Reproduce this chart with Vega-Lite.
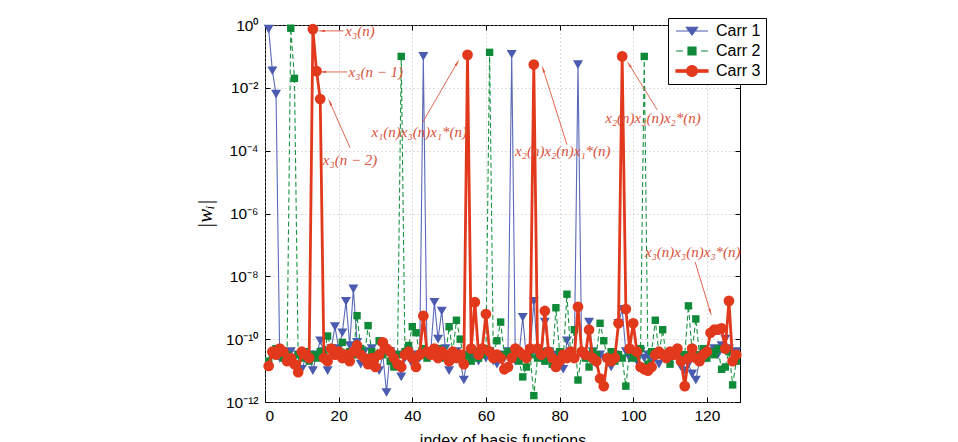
{
  "$schema": "https://vega.github.io/schema/vega-lite/v6.json",
  "width": 475,
  "height": 377,
  "autosize": {"type": "none"},
  "padding": {"left": 265, "top": 25, "right": 218, "bottom": 40},
  "background": "white",
  "config": {
    "view": {"stroke": "#000", "strokeWidth": 1},
    "font": "Liberation Sans",
    "axis": {"labelColor": "#000", "titleColor": "#000", "tickColor": "#000", "domain": false}
  },
  "datasets": {
    "w": [
      {"i":1,"a":0.74,"b":2e-11,"c":1.4e-11},
      {"i":2,"a":0.035,"b":3.2e-11,"c":4e-11},
      {"i":3,"a":0.0063,"b":5e-11,"c":3.2e-11},
      {"i":4,"a":2.5e-11,"b":4e-11,"c":5e-11},
      {"i":5,"a":3.2e-11,"b":2.5e-11,"c":4e-11},
      {"i":6,"a":2e-11,"b":3.2e-11,"c":2e-11},
      {"i":7,"a":4e-11,"b":0.79,"c":2.5e-11},
      {"i":8,"a":2.5e-11,"b":0.02,"c":1.6e-11},
      {"i":9,"a":3.2e-11,"b":3.2e-11,"c":8.9e-12},
      {"i":10,"a":1.1e-11,"b":2.5e-11,"c":4e-11},
      {"i":11,"a":2.5e-11,"b":4e-11,"c":3.2e-11},
      {"i":12,"a":3.2e-11,"b":2e-11,"c":2.5e-11},
      {"i":13,"a":1e-11,"b":3.2e-11,"c":0.74},
      {"i":14,"a":3.2e-11,"b":2.5e-11,"c":0.034},
      {"i":15,"a":8.9e-11,"b":4e-11,"c":0.0044},
      {"i":16,"a":4e-11,"b":3.2e-11,"c":2.5e-11},
      {"i":17,"a":1e-11,"b":1.26e-10,"c":2e-11},
      {"i":18,"a":5e-11,"b":5e-11,"c":5e-11},
      {"i":19,"a":2.5e-10,"b":3.2e-11,"c":3.2e-11},
      {"i":20,"a":5e-11,"b":4e-11,"c":4e-11},
      {"i":21,"a":1.6e-10,"b":7.9e-11,"c":2.5e-11},
      {"i":22,"a":1.6e-9,"b":2.5e-11,"c":3.2e-11},
      {"i":23,"a":6.3e-11,"b":4e-11,"c":2e-11},
      {"i":24,"a":4e-9,"b":3.2e-11,"c":4e-11},
      {"i":25,"a":7.9e-11,"b":5.6e-10,"c":6.3e-11},
      {"i":26,"a":1.6e-11,"b":5e-11,"c":3.2e-11},
      {"i":27,"a":4e-11,"b":2.5e-11,"c":2.5e-11},
      {"i":28,"a":2.5e-11,"b":2.7e-10,"c":1.6e-11},
      {"i":29,"a":5e-11,"b":4e-11,"c":2.5e-11},
      {"i":30,"a":2e-11,"b":2.5e-11,"c":1.3e-11},
      {"i":31,"a":1e-11,"b":8.9e-11,"c":3.2e-11},
      {"i":32,"a":3.2e-11,"b":3.2e-11,"c":7.9e-11},
      {"i":33,"a":2e-12,"b":4e-11,"c":5e-11},
      {"i":34,"a":4e-11,"b":2e-11,"c":4e-11},
      {"i":35,"a":2.5e-11,"b":1.3e-11,"c":2.5e-11},
      {"i":36,"a":3.2e-11,"b":3.2e-11,"c":1.6e-11},
      {"i":37,"a":6.3e-12,"b":0.1,"c":1.3e-11},
      {"i":38,"a":2.5e-11,"b":4e-11,"c":3.2e-11},
      {"i":39,"a":4e-11,"b":6.3e-11,"c":4e-11},
      {"i":40,"a":1.6e-11,"b":2.5e-10,"c":2.5e-11},
      {"i":41,"a":3.2e-11,"b":1.6e-10,"c":1.3e-11},
      {"i":42,"a":2.5e-11,"b":3.2e-11,"c":3.2e-11},
      {"i":43,"a":0.1,"b":5e-11,"c":5.5e-10},
      {"i":44,"a":3.2e-11,"b":2.5e-11,"c":4e-11},
      {"i":45,"a":4e-11,"b":4e-11,"c":3.2e-11},
      {"i":46,"a":1.5e-9,"b":3.2e-11,"c":5e-11},
      {"i":47,"a":1e-10,"b":5e-11,"c":2.5e-11},
      {"i":48,"a":7.9e-10,"b":3.2e-11,"c":4e-11},
      {"i":49,"a":5e-11,"b":2.5e-11,"c":3.2e-11},
      {"i":50,"a":1e-11,"b":2.5e-10,"c":2e-11},
      {"i":51,"a":2.5e-11,"b":4e-11,"c":4e-11},
      {"i":52,"a":4e-11,"b":4e-10,"c":2.5e-11},
      {"i":53,"a":2e-11,"b":1e-10,"c":3.2e-11},
      {"i":54,"a":5e-12,"b":2.5e-11,"c":1.6e-11},
      {"i":55,"a":3.2e-11,"b":3.2e-11,"c":0.112},
      {"i":56,"a":2.5e-11,"b":2e-11,"c":5e-11},
      {"i":57,"a":4e-11,"b":4e-11,"c":1.5e-9},
      {"i":58,"a":2e-11,"b":2.5e-11,"c":3.2e-11},
      {"i":59,"a":3.2e-11,"b":3.2e-11,"c":5e-11},
      {"i":60,"a":2.5e-11,"b":5e-11,"c":6.3e-10},
      {"i":61,"a":4e-11,"b":0.135,"c":4e-11},
      {"i":62,"a":2e-11,"b":3.2e-11,"c":2.5e-11},
      {"i":63,"a":1.6e-11,"b":8.9e-11,"c":3.2e-11},
      {"i":64,"a":3.2e-11,"b":3.5e-10,"c":2.5e-11},
      {"i":65,"a":2.5e-11,"b":3.2e-11,"c":1.1e-11},
      {"i":66,"a":4e-11,"b":4e-11,"c":1.3e-11},
      {"i":67,"a":0.117,"b":2.5e-11,"c":2.5e-11},
      {"i":68,"a":2e-11,"b":3.2e-11,"c":5e-11},
      {"i":69,"a":3.2e-11,"b":2e-11,"c":4e-11},
      {"i":70,"a":5e-10,"b":6.3e-12,"c":3.2e-11},
      {"i":71,"a":2.5e-11,"b":1.3e-11,"c":2.5e-11},
      {"i":72,"a":4e-11,"b":3.2e-11,"c":5e-11},
      {"i":73,"a":1.6e-9,"b":1.6e-12,"c":0.055},
      {"i":74,"a":3.2e-11,"b":2.5e-11,"c":5e-11},
      {"i":75,"a":2.5e-11,"b":4e-11,"c":3.2e-11},
      {"i":76,"a":3.5e-10,"b":2e-11,"c":7.9e-10},
      {"i":77,"a":4e-11,"b":3.2e-11,"c":4e-11},
      {"i":78,"a":2e-11,"b":1.6e-11,"c":2.5e-11},
      {"i":79,"a":3.2e-11,"b":1e-9,"c":1.3e-11},
      {"i":80,"a":2.5e-11,"b":4e-11,"c":2e-11},
      {"i":81,"a":1.1e-11,"b":2.5e-11,"c":3.2e-11},
      {"i":82,"a":8.9e-11,"b":2.7e-9,"c":2.5e-11},
      {"i":83,"a":4e-11,"b":3.2e-11,"c":4e-11},
      {"i":84,"a":2.5e-11,"b":2e-10,"c":2.5e-11},
      {"i":85,"a":0.055,"b":5e-12,"c":1.07e-9},
      {"i":86,"a":3.2e-11,"b":4e-11,"c":4e-11},
      {"i":87,"a":2.5e-11,"b":2.5e-11,"c":3.2e-11},
      {"i":88,"a":3.5e-10,"b":1.3e-11,"c":2e-10},
      {"i":89,"a":4e-11,"b":4e-11,"c":2.5e-11},
      {"i":90,"a":1.6e-11,"b":3.2e-11,"c":2e-11},
      {"i":91,"a":3.2e-11,"b":3.2e-10,"c":5.6e-12},
      {"i":92,"a":2.5e-11,"b":8.9e-11,"c":3.2e-12},
      {"i":93,"a":2e-11,"b":2.5e-11,"c":2.5e-11},
      {"i":94,"a":1.3e-11,"b":4e-11,"c":2e-11},
      {"i":95,"a":3.2e-11,"b":2e-11,"c":2.5e-11},
      {"i":96,"a":3.2e-10,"b":3.2e-11,"c":3.2e-10},
      {"i":97,"a":8.9e-10,"b":2.5e-11,"c":0.1},
      {"i":98,"a":4e-11,"b":3.2e-12,"c":9.1e-10},
      {"i":99,"a":2.5e-11,"b":4e-11,"c":5e-11},
      {"i":100,"a":3.2e-11,"b":2.5e-11,"c":3.2e-10},
      {"i":101,"a":2e-11,"b":3.2e-11,"c":4e-11},
      {"i":102,"a":4e-11,"b":5e-11,"c":1.3e-11},
      {"i":103,"a":2.5e-11,"b":0.1,"c":1.1e-11},
      {"i":104,"a":3.2e-11,"b":1.6e-11,"c":1e-11},
      {"i":105,"a":2e-11,"b":4e-11,"c":1.3e-11},
      {"i":106,"a":2.5e-11,"b":4e-10,"c":3.2e-11},
      {"i":107,"a":1.6e-11,"b":3.2e-11,"c":4e-11},
      {"i":108,"a":3.2e-11,"b":2e-10,"c":3.2e-11},
      {"i":109,"a":2.5e-11,"b":2.5e-11,"c":2.5e-11},
      {"i":110,"a":2e-11,"b":1.6e-11,"c":4e-11},
      {"i":111,"a":3.2e-11,"b":3.2e-11,"c":3.2e-11},
      {"i":112,"a":2.5e-11,"b":4e-11,"c":5e-11},
      {"i":113,"a":1.3e-11,"b":2.5e-11,"c":2e-11},
      {"i":114,"a":1e-11,"b":3.2e-11,"c":3.2e-12},
      {"i":115,"a":1.6e-11,"b":1.15e-9,"c":2.5e-11},
      {"i":116,"a":7.9e-12,"b":4e-11,"c":5e-11},
      {"i":117,"a":5e-12,"b":4.4e-10,"c":2.5e-11},
      {"i":118,"a":2e-11,"b":3.2e-11,"c":2e-11},
      {"i":119,"a":3.2e-11,"b":5e-11,"c":3.2e-11},
      {"i":120,"a":2.5e-11,"b":2.5e-11,"c":4e-11},
      {"i":121,"a":4e-11,"b":4e-11,"c":1.6e-10},
      {"i":122,"a":5e-11,"b":3.2e-11,"c":2e-10},
      {"i":123,"a":3.2e-11,"b":5e-11,"c":2e-10},
      {"i":124,"a":6.3e-11,"b":1.1e-11,"c":2.2e-10},
      {"i":125,"a":1e-10,"b":1.3e-11,"c":5e-11},
      {"i":126,"a":5e-11,"b":4e-11,"c":1.66e-9},
      {"i":127,"a":3.2e-11,"b":3.5e-12,"c":2e-11},
      {"i":128,"a":4e-11,"b":2e-11,"c":3.2e-11}
    ],
    "ann": [
      {"k":1,"label":"x₃(n)","tx":21.8,"ty":0.65,"ax1":21.3,"ay1":0.65,"ax2":15.6,"ay2":0.65},
      {"k":2,"label":"x₃(n − 1)","tx":22.7,"ty":0.032,"ax1":22.3,"ay1":0.032,"ax2":15.9,"ay2":0.032},
      {"k":3,"label":"x₃(n − 2)","tx":15.7,"ty":5.1e-5,"ax1":23.1,"ay1":1.23e-4,"ax2":17.7,"ay2":3.3e-3},
      {"k":4,"label":"x₁(n)x₃(n)x₁*(n)","tx":28.9,"ty":4e-4,"ax1":42.9,"ay1":8.3e-4,"ax2":52.1,"ay2":0.06},
      {"k":5,"label":"x₂(n)x₂(n)x₁*(n)","tx":67.9,"ty":1e-4,"ax1":82.0,"ay1":1.55e-4,"ax2":75.6,"ay2":0.037},
      {"k":6,"label":"x₂(n)x₃(n)x₂*(n)","tx":92.4,"ty":1.1e-3,"ax1":106.5,"ay1":2e-3,"ax2":99.0,"ay2":0.053},
      {"k":7,"label":"x₃(n)x₃(n)x₃*(n)","tx":103.2,"ty":6e-8,"ax1":116.8,"ay1":2.9e-8,"ax2":120.9,"ay2":7.7e-10}
    ],
    "series": [{"s":"Carr 1"},{"s":"Carr 2"},{"s":"Carr 3"}]
  },
  "layer": [
    {
      "data": {"name": "w"},
      "mark": {"type": "line", "color": "#5a69b8", "strokeWidth": 1.1, "point": {"shape": "triangle-down", "filled": true, "size": 100, "color": "#4a5bb0"}},
      "encoding": {
        "x": {"field": "i", "type": "quantitative", "scale": {"domain": [0, 129], "nice": false, "zero": false},
          "axis": {"orient": "bottom", "values": [0,20,40,60,80,100,120], "title": "index of basis functions",
            "grid": true, "gridDash": [1,3], "gridColor": "#aaaaaa", "gridWidth": 0.8,
            "tickSize": -5, "labelFontSize": 15.5, "labelPadding": 11, "titleFontSize": 16, "titleFontWeight": "normal", "titlePadding": 9}},
        "y": {"field": "a", "type": "quantitative", "scale": {"type": "log", "domain": [1e-12, 1], "nice": false},
          "axis": {"orient": "left", "values": [1,0.01,0.0001,1e-6,1e-8,1e-10,1e-12],
            "labelExpr": "datum.value > 0.5 ? '10⁰' : datum.value > 5e-3 ? '10⁻²' : datum.value > 5e-5 ? '10⁻⁴' : datum.value > 5e-7 ? '10⁻⁶' : datum.value > 5e-9 ? '10⁻⁸' : datum.value > 5e-11 ? '10⁻¹⁰' : '10⁻¹²'",
            "title": "|wᵢ|", "titleFont": "Liberation Serif", "titleFontStyle": "italic", "titleFontWeight": "normal", "titleFontSize": 21, "titlePadding": 10,
            "grid": true, "gridDash": [1,3], "gridColor": "#aaaaaa", "gridWidth": 0.8,
            "tickSize": -5, "labelFontSize": 15.5, "labelPadding": 12}}
      }
    },
    {
      "data": {"name": "w"},
      "mark": {"type": "line", "color": "#1a9440", "strokeWidth": 1.1, "strokeDash": [5, 3], "point": {"shape": "square", "filled": true, "size": 55, "color": "#0e8a38"}},
      "encoding": {
        "x": {"field": "i", "type": "quantitative", "axis": null},
        "y": {"field": "b", "type": "quantitative", "scale": {"type": "log"}, "axis": null}
      }
    },
    {
      "data": {"name": "w"},
      "mark": {"type": "line", "color": "#e2391c", "strokeWidth": 2.8, "point": {"shape": "circle", "filled": true, "size": 115, "color": "#e2391c", "opacity": 1}},
      "encoding": {
        "x": {"field": "i", "type": "quantitative", "axis": null},
        "y": {"field": "c", "type": "quantitative", "scale": {"type": "log"}, "axis": null}
      }
    },
    {
      "data": {"name": "ann"},
      "mark": {"type": "rule", "color": "#e0553c", "strokeWidth": 0.9},
      "encoding": {
        "x": {"field": "ax1", "type": "quantitative", "axis": null},
        "y": {"field": "ay1", "type": "quantitative", "scale": {"type": "log"}, "axis": null},
        "x2": {"field": "ax2"},
        "y2": {"field": "ay2"}
      }
    },
    {
      "data": {"name": "ann"},
      "transform": [{"filter": "datum.k <= 2"}],
      "mark": {"type": "point", "shape": "wedge", "filled": true, "size": 80, "angle": 270, "color": "#e0553c", "opacity": 1},
      "encoding": {"x": {"field": "ax2", "type": "quantitative", "axis": null}, "y": {"field": "ay2", "type": "quantitative", "scale": {"type": "log"}, "axis": null}}
    },
    {
      "data": {"name": "ann"},
      "transform": [{"filter": "datum.k == 3"}],
      "mark": {"type": "point", "shape": "wedge", "filled": true, "size": 80, "angle": 336, "color": "#e0553c", "opacity": 1},
      "encoding": {"x": {"field": "ax2", "type": "quantitative", "axis": null}, "y": {"field": "ay2", "type": "quantitative", "scale": {"type": "log"}, "axis": null}}
    },
    {
      "data": {"name": "ann"},
      "transform": [{"filter": "datum.k == 4"}],
      "mark": {"type": "point", "shape": "wedge", "filled": true, "size": 80, "angle": 30, "color": "#e0553c", "opacity": 1},
      "encoding": {"x": {"field": "ax2", "type": "quantitative", "axis": null}, "y": {"field": "ay2", "type": "quantitative", "scale": {"type": "log"}, "axis": null}}
    },
    {
      "data": {"name": "ann"},
      "transform": [{"filter": "datum.k == 5"}],
      "mark": {"type": "point", "shape": "wedge", "filled": true, "size": 80, "angle": 343, "color": "#e0553c", "opacity": 1},
      "encoding": {"x": {"field": "ax2", "type": "quantitative", "axis": null}, "y": {"field": "ay2", "type": "quantitative", "scale": {"type": "log"}, "axis": null}}
    },
    {
      "data": {"name": "ann"},
      "transform": [{"filter": "datum.k == 6"}],
      "mark": {"type": "point", "shape": "wedge", "filled": true, "size": 80, "angle": 328, "color": "#e0553c", "opacity": 1},
      "encoding": {"x": {"field": "ax2", "type": "quantitative", "axis": null}, "y": {"field": "ay2", "type": "quantitative", "scale": {"type": "log"}, "axis": null}}
    },
    {
      "data": {"name": "ann"},
      "transform": [{"filter": "datum.k == 7"}],
      "mark": {"type": "point", "shape": "wedge", "filled": true, "size": 80, "angle": 164, "color": "#e0553c", "opacity": 1},
      "encoding": {"x": {"field": "ax2", "type": "quantitative", "axis": null}, "y": {"field": "ay2", "type": "quantitative", "scale": {"type": "log"}, "axis": null}}
    },
    {
      "data": {"name": "ann"},
      "mark": {"type": "text", "align": "left", "baseline": "middle", "font": "Liberation Serif", "fontStyle": "italic", "fontSize": 15, "color": "#d9503a"},
      "encoding": {
        "x": {"field": "tx", "type": "quantitative", "axis": {"orient": "top", "values": [0,20,40,60,80,100,120], "labels": false, "title": null, "grid": false, "tickSize": -5}},
        "y": {"field": "ty", "type": "quantitative", "scale": {"type": "log"}, "axis": {"orient": "right", "values": [1,0.01,0.0001,1e-6,1e-8,1e-10,1e-12], "labels": false, "title": null, "grid": false, "tickSize": -5}},
        "text": {"field": "label"}
      }
    },
    {
      "data": {"name": "series"},
      "mark": {"type": "point", "filled": true, "opacity": 0, "size": 100},
      "encoding": {
        "fill": {"field": "s", "type": "nominal", "scale": {"domain": ["Carr 1","Carr 2","Carr 3"], "range": ["#4a5bb0","#0e8a38","#e2391c"]}, "legend": null},
        "stroke": {"field": "s", "type": "nominal", "scale": {"domain": ["Carr 1","Carr 2","Carr 3"], "range": ["#4a5bb0","#0e8a38","#e2391c"]}, "legend": null},
        "shape": {"field": "s", "type": "nominal",
          "scale": {"domain": ["Carr 1","Carr 2","Carr 3"], "range": [
            "M-1,0H5.4M1.07,-0.75H3.33L2.2,0.8Z",
            "M-1,0H0.4M4,0H5.4M1.4,-0.8H3V0.8H1.4Z",
            "M-1,-0.25H5.4V0.25H-1ZM1.1,0A1.1,1.1,0,1,1,3.3,0A1.1,1.1,0,1,1,1.1,0Z"]},
          "legend": {"orient": "none", "legendX": 403, "legendY": -7, "title": null, "padding": 5,
            "strokeColor": "#000", "fillColor": "#fff", "labelFontSize": 16, "labelColor": "#000", "labelFont": "Liberation Sans",
            "labelOffset": 27, "rowPadding": 4, "symbolOpacity": 1, "symbolStrokeWidth": 1.2, "symbolSize": 100,
            "symbolFillColor": "#000", "symbolStrokeColor": "#000"}}
      }
    }
  ]
}
